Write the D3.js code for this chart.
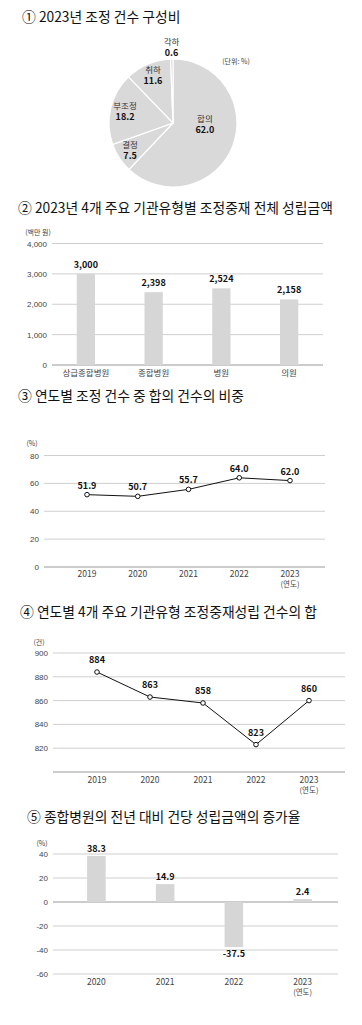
<!DOCTYPE html>
<html>
<head>
<meta charset="utf-8">
<script src="https://cdn.jsdelivr.net/npm/d3@7"></script>
<style>
  body { margin: 0; background: #fff; }
  svg { font-family: "Noto Sans CJK KR", "Noto Sans", sans-serif; display: block; }
  .tick text { fill: #444; font-size: 8px; }
  .title { font-size: 13.8px; fill: #111; }
  .val { font-size: 9px; font-weight: bold; fill: #111; }
  .unit { font-size: 7px; fill: #444; }
</style>
</head>
<body>
<div id="container"></div>
<script>
// ① 2023 composition
let pieLabels = ["합의", "결정", "부조정", "취하", "각하"];
let pieValues = [62.0, 7.5, 18.2, 11.6, 0.6];

// ② 2023 amount by institution type
let instTypes = ["상급종합병원", "종합병원", "병원", "의원"];
let instAmounts = [3000, 2398, 2524, 2158];
let amountTicks = [0, 1000, 2000, 3000, 4000];

// ③ share of 합의
let years = ["2019", "2020", "2021", "2022", "2023"];
let agreeShare = [51.9, 50.7, 55.7, 64.0, 62.0];
let shareTicks = [0, 20, 40, 60, 80];

// ④ number of settled cases
let caseCounts = [884, 863, 858, 823, 860];
let caseTicks = [820, 840, 860, 880, 900];

// ⑤ growth rate
let growthYears = ["2020", "2021", "2022", "2023"];
let growthRates = [38.3, 14.9, -37.5, 2.4];
let growthTicks = [-60, -40, -20, 0, 20, 40];

let w = 362;
let h = 1025;
let viz = d3.select("#container").append("svg")
  .attr("width", w)
  .attr("height", h);

function title(text, x, y){
  viz.append("text").attr("class", "title")
    .attr("x", x).attr("y", y)
    .attr("dominant-baseline", "middle")
    .text(text);
}

// plain hyphen minus, like the original
let plain = d => String(d);

// grid + y labels helper
function yGrid(g, yScale, ticks, x0, x1, baseVal, fmt){
  let ax = d3.axisLeft(yScale).tickValues(ticks).tickSize(0).tickPadding(5).tickFormat(fmt);
  let ag = g.append("g").attr("transform", "translate(" + x0 + ",0)").call(ax);
  ag.select(".domain").remove();
  g.selectAll(".grid").data(ticks.filter(t => t !== baseVal)).enter()
    .append("line")
    .attr("x1", x0).attr("x2", x1)
    .attr("y1", d => yScale(d)).attr("y2", d => yScale(d))
    .attr("stroke", "#cfcfcf").attr("stroke-width", 1);
  g.append("line")
    .attr("x1", x0).attr("x2", x1)
    .attr("y1", yScale(baseVal)).attr("y2", yScale(baseVal))
    .attr("stroke", "#9a9a9a").attr("stroke-width", 1.2);
}

function xLabels(g, xScale, cats, y, offset, lastUnit){
  g.selectAll(".xl").data(cats).enter()
    .append("text")
    .attr("x", d => xScale(d) + offset)
    .attr("y", y)
    .attr("text-anchor", "middle")
    .attr("dominant-baseline", "middle")
    .attr("font-size", 8.5).attr("fill", "#444")
    .text(d => d);
  if (lastUnit){
    g.append("text")
      .attr("x", xScale(cats[cats.length - 1]) + offset)
      .attr("y", y + 10)
      .attr("text-anchor", "middle")
      .attr("dominant-baseline", "middle")
      .attr("font-size", 7.5).attr("fill", "#444")
      .text("(연도)");
  }
}

// ---------- ① pie ----------
title("① 2023년 조정 건수 구성비", 22, 18);
let pieG = viz.append("g").attr("transform", "translate(173,123)");
let r = 64;
let pie = d3.pie().sort(null).value(d => d);
let arcs = pie(pieValues);
let arc = d3.arc().innerRadius(0).outerRadius(r);
pieG.selectAll("path").data(arcs).enter()
  .append("path")
  .attr("d", arc)
  .attr("fill", "#d9d9d9")
  .attr("stroke", "#fff")
  .attr("stroke-width", 1.2);

let labelR = [0.5, 0.8, 0.77, 0.8, 1.18];
arcs.forEach(function(a, i){
  let ang = (a.startAngle + a.endAngle) / 2;
  if (i === 0) ang = Math.PI * 0.52;
  let rr = r * labelR[i];
  let lx = Math.sin(ang) * rr;
  let ly = -Math.cos(ang) * rr;
  pieG.append("text")
    .attr("x", lx).attr("y", ly - 5)
    .attr("text-anchor", "middle").attr("dominant-baseline", "middle")
    .attr("font-size", 8.5).attr("fill", "#333")
    .text(pieLabels[i]);
  pieG.append("text")
    .attr("x", lx).attr("y", ly + 6)
    .attr("text-anchor", "middle").attr("dominant-baseline", "middle")
    .attr("class", "val")
    .text(pieValues[i].toFixed(1));
});
viz.append("text").attr("class", "unit")
  .attr("x", 236).attr("y", 62)
  .attr("text-anchor", "middle").attr("dominant-baseline", "middle")
  .text("(단위: %)");

// ---------- ② bars ----------
title("② 2023년 4개 주요 기관유형별 조정중재 전체 성립금액", 18, 209);
let g2 = viz.append("g");
let y2 = d3.scaleLinear().domain([0, 4000]).range([365, 243.5]);
let x2 = d3.scaleBand().domain(instTypes).range([52, 323]).paddingInner(0.73).paddingOuter(0.365);
yGrid(g2, y2, amountTicks, 52, 323, 0, d3.format(","));
g2.selectAll(".bar").data(instAmounts).enter()
  .append("rect")
  .attr("x", (d, i) => x2(instTypes[i]))
  .attr("width", x2.bandwidth())
  .attr("y", d => y2(d))
  .attr("height", d => y2(0) - y2(d))
  .attr("fill", "#d6d6d6");
g2.selectAll(".v").data(instAmounts).enter()
  .append("text").attr("class", "val")
  .attr("x", (d, i) => x2(instTypes[i]) + x2.bandwidth() / 2)
  .attr("y", d => y2(d) - 6)
  .attr("text-anchor", "middle")
  .text(d => d3.format(",")(d));
xLabels(g2, x2, instTypes, 374, x2.bandwidth() / 2, false);
viz.append("text").attr("class", "unit")
  .attr("x", 38).attr("y", 233)
  .attr("text-anchor", "middle").attr("dominant-baseline", "middle")
  .text("(백만 원)");

// ---------- ③ line ----------
title("③ 연도별 조정 건수 중 합의 건수의 비중", 18, 397);
let g3 = viz.append("g");
let y3 = d3.scaleLinear().domain([0, 80]).range([567, 455.5]);
let x3 = d3.scalePoint().domain(years).range([87, 290]);
yGrid(g3, y3, shareTicks, 44, 325, 0, plain);
let line3 = d3.line().x((d, i) => x3(years[i])).y(d => y3(d));
g3.append("path").datum(agreeShare)
  .attr("d", line3).attr("fill", "none")
  .attr("stroke", "#111").attr("stroke-width", 1);
g3.selectAll(".pt").data(agreeShare).enter()
  .append("circle")
  .attr("cx", (d, i) => x3(years[i])).attr("cy", d => y3(d))
  .attr("r", 2.3).attr("fill", "#fff").attr("stroke", "#111").attr("stroke-width", 1);
g3.selectAll(".v").data(agreeShare).enter()
  .append("text").attr("class", "val")
  .attr("x", (d, i) => x3(years[i])).attr("y", d => y3(d) - 6)
  .attr("text-anchor", "middle")
  .text(d => d.toFixed(1));
xLabels(g3, x3, years, 575, 0, true);
viz.append("text").attr("class", "unit")
  .attr("x", 32).attr("y", 444)
  .attr("text-anchor", "middle").attr("dominant-baseline", "middle")
  .text("(%)");

// ---------- ④ line ----------
title("④ 연도별 4개 주요 기관유형 조정중재성립 건수의 합", 20, 613);
let g4 = viz.append("g");
let y4 = d3.scaleLinear().domain([800, 900]).range([772, 653]);
let x4 = d3.scalePoint().domain(years).range([97, 309]);
yGrid(g4, y4, caseTicks.concat([800]), 53, 345, 800, plain);
g4.selectAll(".tick").filter(d => d === 800).remove();
let line4 = d3.line().x((d, i) => x4(years[i])).y(d => y4(d));
g4.append("path").datum(caseCounts)
  .attr("d", line4).attr("fill", "none")
  .attr("stroke", "#111").attr("stroke-width", 1);
g4.selectAll(".pt").data(caseCounts).enter()
  .append("circle")
  .attr("cx", (d, i) => x4(years[i])).attr("cy", d => y4(d))
  .attr("r", 2.3).attr("fill", "#fff").attr("stroke", "#111").attr("stroke-width", 1);
g4.selectAll(".v").data(caseCounts).enter()
  .append("text").attr("class", "val")
  .attr("x", (d, i) => x4(years[i])).attr("y", d => y4(d) - 9)
  .attr("text-anchor", "middle")
  .text(d => d);
xLabels(g4, x4, years, 781, 0, true);
viz.append("text").attr("class", "unit")
  .attr("x", 39).attr("y", 643)
  .attr("text-anchor", "middle").attr("dominant-baseline", "middle")
  .text("(건)");

// ---------- ⑤ bars ----------
title("⑤ 종합병원의 전년 대비 건당 성립금액의 증가율", 27, 818);
let g5 = viz.append("g");
let y5 = d3.scaleLinear().domain([-60, 40]).range([974, 854]);
let x5 = d3.scaleBand().domain(growthYears).range([62, 337]).paddingInner(0.73).paddingOuter(0.365);
yGrid(g5, y5, growthTicks, 53, 338, 0, plain);
g5.selectAll(".bar").data(growthRates).enter()
  .append("rect")
  .attr("x", (d, i) => x5(growthYears[i]))
  .attr("width", x5.bandwidth())
  .attr("y", d => y5(Math.max(0, d)))
  .attr("height", d => Math.abs(y5(d) - y5(0)))
  .attr("fill", "#d6d6d6");
g5.selectAll(".v").data(growthRates).enter()
  .append("text").attr("class", "val")
  .attr("x", (d, i) => x5(growthYears[i]) + x5.bandwidth() / 2)
  .attr("y", d => d >= 0 ? y5(d) - 4 : y5(d) + 10)
  .attr("text-anchor", "middle")
  .text(d => d.toFixed(1));
xLabels(g5, x5, growthYears, 983, x5.bandwidth() / 2, true);
viz.append("text").attr("class", "unit")
  .attr("x", 42).attr("y", 844)
  .attr("text-anchor", "middle").attr("dominant-baseline", "middle")
  .text("(%)");
</script>
</body>
</html>
